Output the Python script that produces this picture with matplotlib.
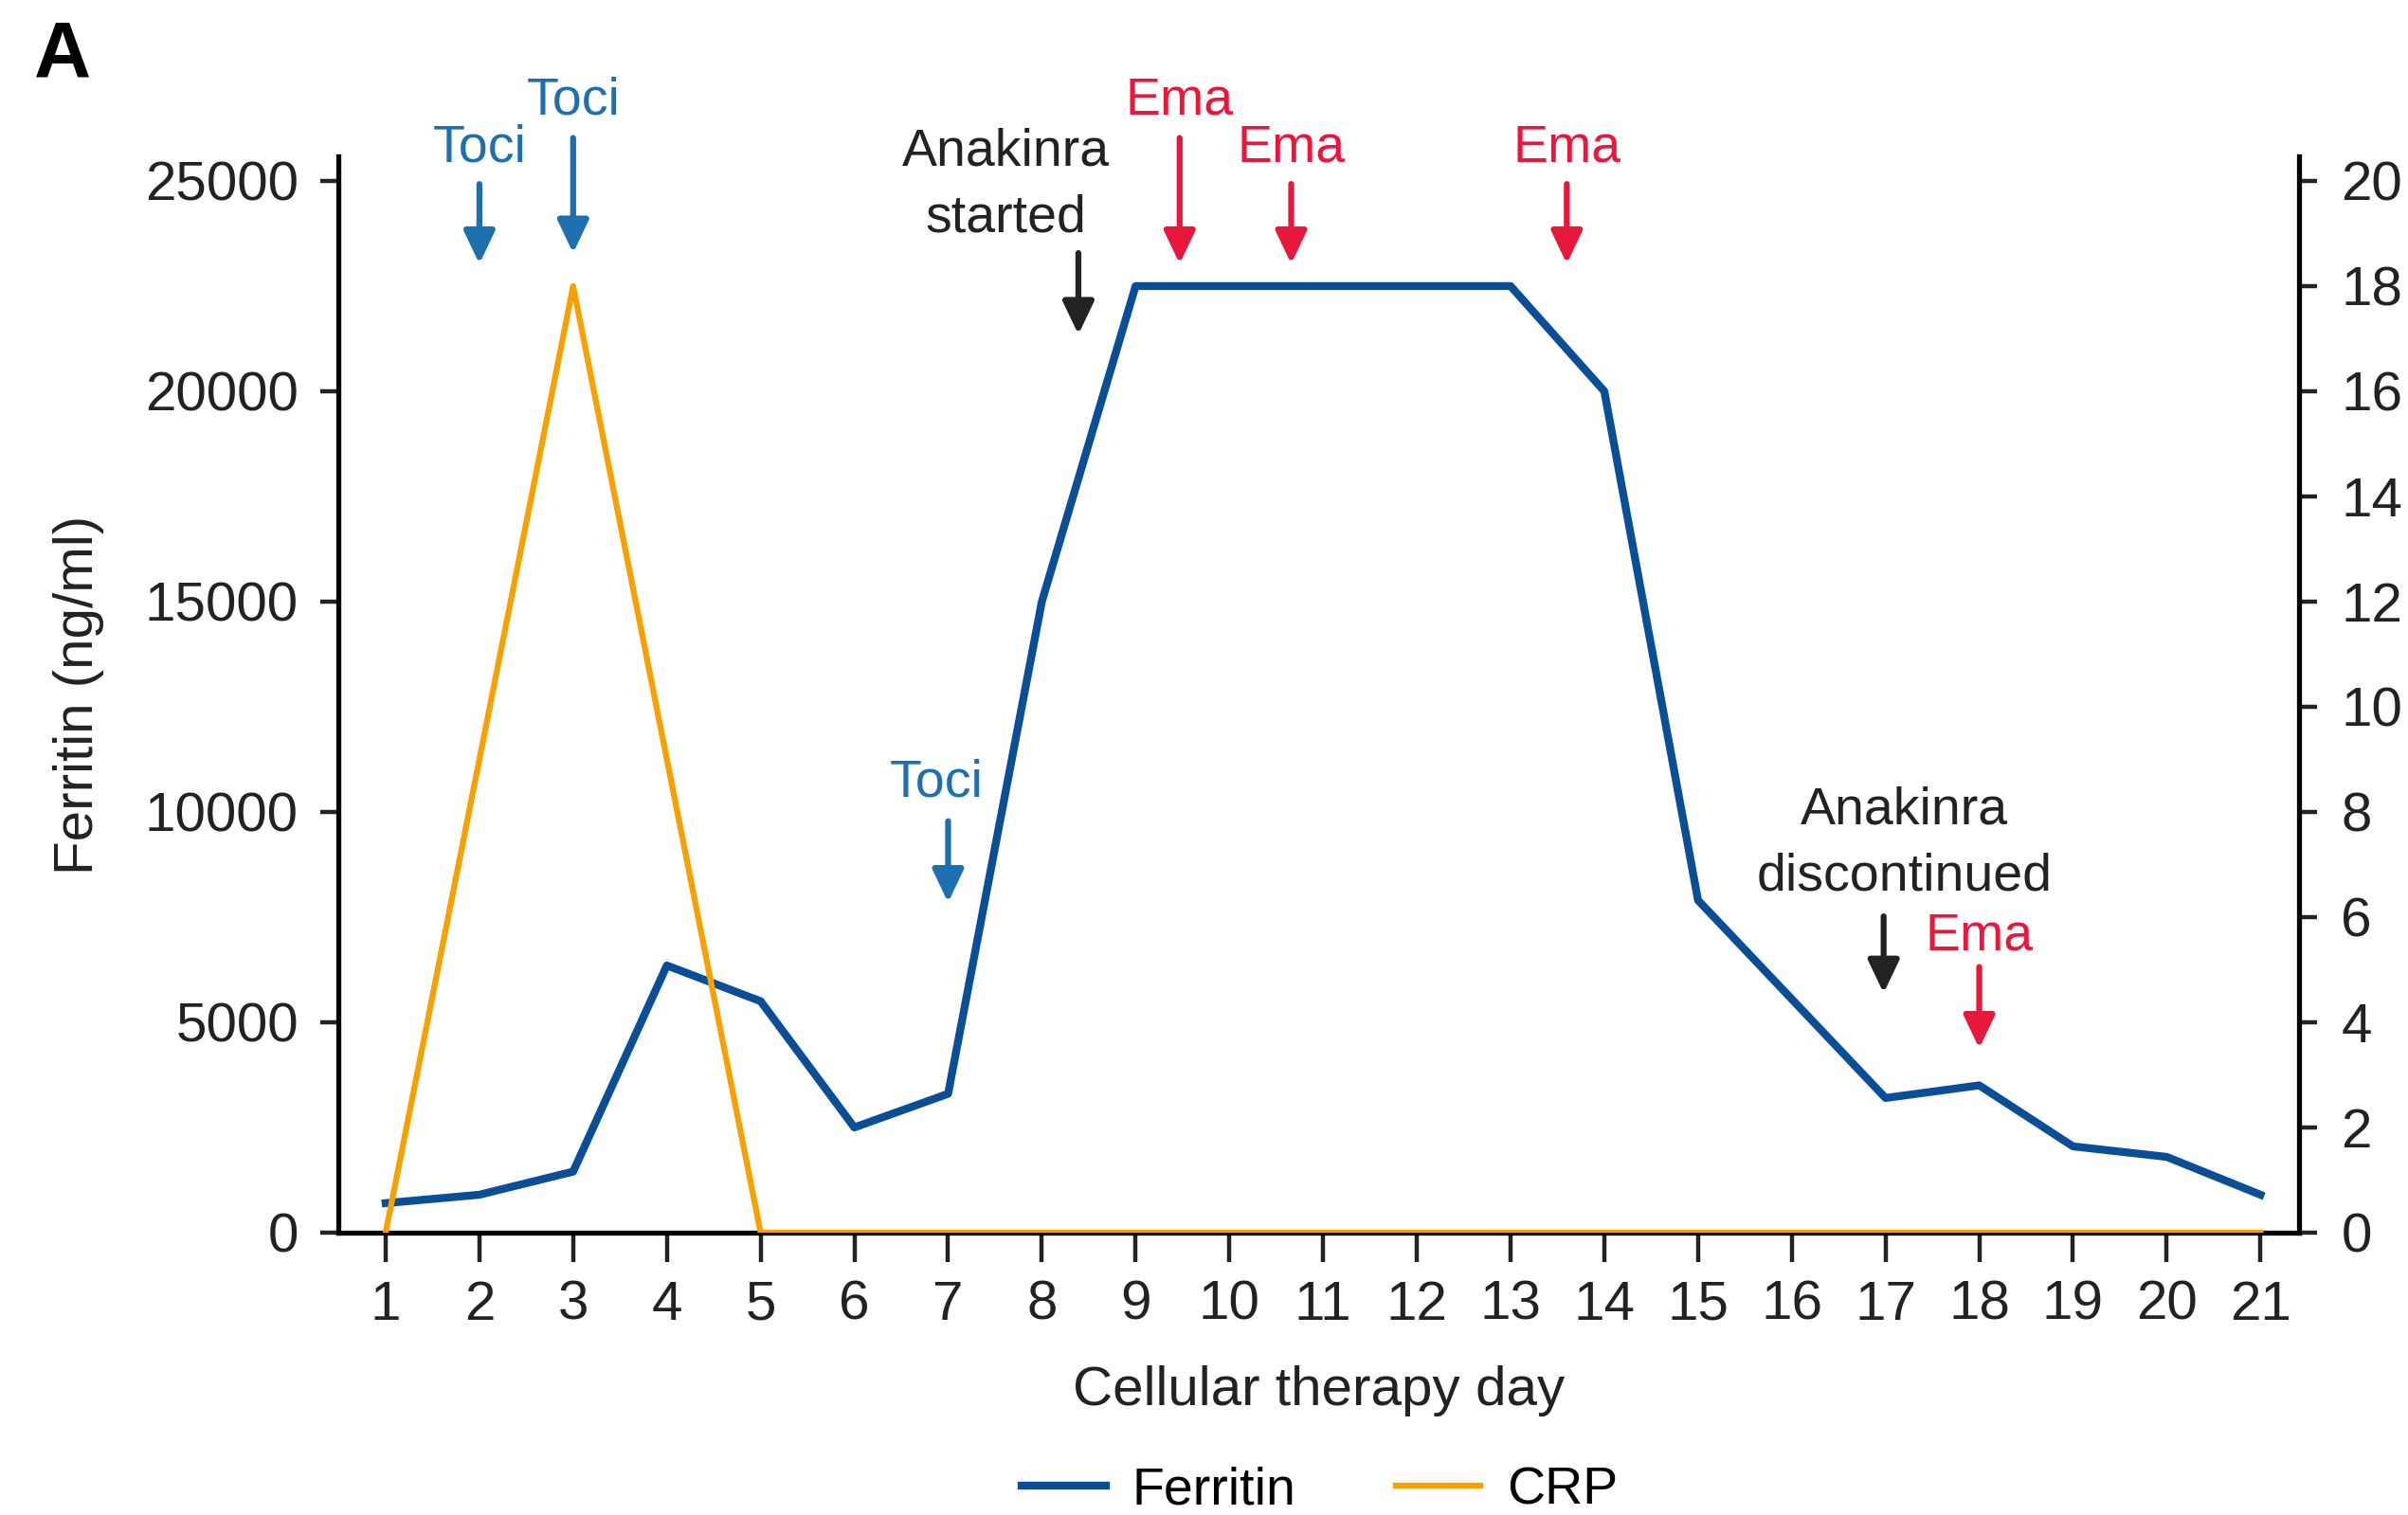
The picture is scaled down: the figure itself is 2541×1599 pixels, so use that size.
import matplotlib
matplotlib.use('Agg')
import matplotlib.pyplot as plt

plt.rcParams['font.family'] = ['Liberation Sans', 'DejaVu Sans']

# Datos
dias = list(range(1, 22))
ferritina = [700, 900, 1450, 6350, 5500, 2500, 3300, 15000, 22500, 22500, 22500,
             22500, 22500, 20000, 7900, 5550, 3200, 3500, 2050, 1800, 900]
crp = [0, 9, 18, 9, 0, 0, 0, 0, 0, 0, 0, 0, 0, 0, 0, 0, 0, 0, 0, 0, 0]

ticks_izq = [0, 5000, 10000, 15000, 20000, 25000]
ticks_der = list(range(0, 21, 2))

# Anotaciones: (texto, x del texto, y del texto, x de la flecha, y inicio, y punta, color)
anotaciones = [
    ('Toci', 2.0, 25766, 2.0, 24927, 23029, '#1d6fb0'),
    ('Toci', 3.0, 26898, 3.0, 26022, 23285, '#1d6fb0'),
    ('Toci', 6.88, 10693, 7.0, 9781, 7847, '#1d6fb0'),
    ('Anakinra\nstarted', 7.62, 24891, 8.39, 23285, 21350, '#222222'),
    ('Ema', 9.47, 26898, 9.47, 26022, 23029, '#e8173c'),
    ('Ema', 10.66, 25766, 10.66, 24927, 23029, '#e8173c'),
    ('Ema', 13.6, 25766, 13.6, 24927, 23029, '#e8173c'),
    ('Anakinra\ndiscontinued', 17.2, 9234, 16.98, 7518, 5693, '#222222'),
    ('Ema', 18.0, 7044, 18.0, 6314, 4380, '#e8173c'),
]

color_fer = '#0a4f96'
color_crp = '#f7a100'
ymax = 25580

fig = plt.figure(figsize=(25.41, 15.99), dpi=100)
ax = fig.add_axes([0.1403, 0.1864, 0.8144, 0.7103])
ax2 = ax.twinx()

ax.plot(dias, ferritina, color=color_fer, lw=6, label='Ferritin', zorder=3)
ax2.plot(dias, crp, color=color_crp, lw=4.5, label='CRP', zorder=4)

ax.set_xlim(0.49, 21.41)
ax.set_ylim(0, ymax)
ax2.set_ylim(0, ymax * 20 / 25000)
ax.set_xticks(dias)
ax.set_yticks(ticks_izq)
ax2.set_yticks(ticks_der)

for a in (ax, ax2):
    a.spines['top'].set_visible(False)
    for s in a.spines.values():
        s.set_linewidth(3.8)
ax.spines['right'].set_visible(False)
ax2.spines['left'].set_visible(False)
ax2.spines['bottom'].set_visible(False)

ax.tick_params(axis='y', length=14, width=3.2, pad=16, labelsize=42, colors='#222222')
ax.tick_params(axis='x', length=22, width=3.2, pad=14, labelsize=42, colors='#222222')
ax2.tick_params(axis='y', length=14, width=3.2, pad=18, labelsize=42, colors='#222222')

ax.set_xlabel('Cellular therapy day', fontsize=42, labelpad=26, color='#222222')
ax.set_ylabel('Ferritin (ng/ml)', fontsize=42, labelpad=31, color='#222222')

for txt, xt, yt, xa, y0, y1, col in anotaciones:
    ax.text(xt, yt, txt, ha='center', va='center', fontsize=40, color=col,
            linespacing=1.45, zorder=5)
    ax.annotate('', xy=(xa, y1), xytext=(xa, y0),
                arrowprops=dict(arrowstyle='-|>,head_length=2.1,head_width=1.0',
                                color=col, lw=4.5, shrinkA=0, shrinkB=0), zorder=5)

fig.text(0.026, 0.963, 'A', fontsize=60, fontweight='bold', ha='center', va='center')

h1, l1 = ax.get_legend_handles_labels()
h2, l2 = ax2.get_legend_handles_labels()
fig.legend(h1 + h2, l1 + l2, loc='center', bbox_to_anchor=(0.548, 0.016), ncol=2,
           frameon=False, fontsize=40, handlelength=1.6, columnspacing=1.9,
           handletextpad=0.5)

fig.savefig('out.png', dpi=100)
